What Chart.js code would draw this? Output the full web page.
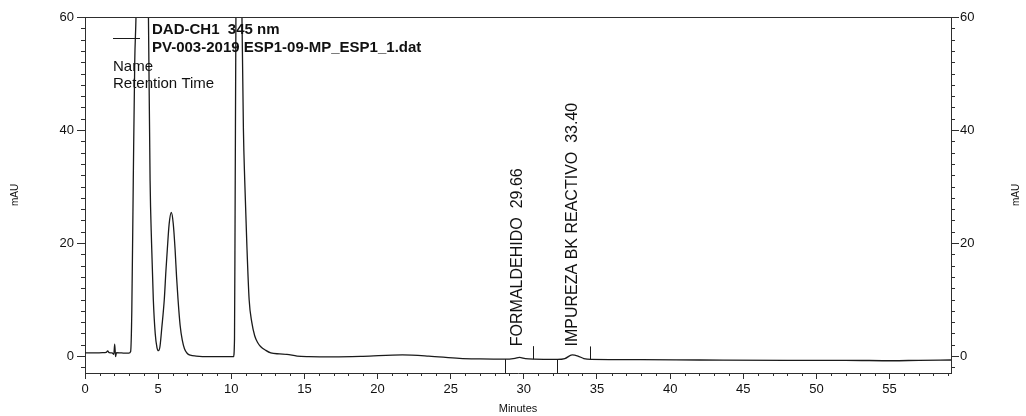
<!DOCTYPE html>
<html lang="es">
<head>
  <meta charset="UTF-8">
  <title>DAD-CH1 345 nm</title>
  <script src="https://cdn.jsdelivr.net/npm/chart.js"></script>
  <style>
    html, body { margin: 0; padding: 0; background: #fff; }
    canvas { display: block; }
  </style>
</head>
<body>
  <canvas id="chrom" width="1026" height="416"></canvas>

<script>
  const minutes = [
    0.0, 0.6, 1.2, 1.45, 1.55, 1.65, 1.85, 1.97, 2.03, 2.09, 2.15, 2.5, 3.0, 3.12,
    3.2, 3.3, 3.4, 3.5, 3.7, 3.9, 4.1, 4.33, 4.45, 4.55, 4.67, 4.8, 4.92, 5.02,
    5.12, 5.25, 5.42, 5.53, 5.63, 5.75, 5.9, 6.03, 6.16, 6.26, 6.36, 6.5, 6.65, 6.8,
    6.98, 7.2, 7.6, 8.5, 9.5, 10.15, 10.22, 10.26, 10.32, 10.5, 10.72, 10.83, 10.92,
    11.06, 11.22, 11.4, 11.6, 11.8, 12.0, 12.36, 12.7, 13.3, 13.8, 14.5, 15.3, 17,
    19, 21.7, 23.5, 25.6, 27, 28.7, 29.4, 29.7, 30.1, 30.7, 32.3, 32.8, 33.3, 33.7,
    34.1, 34.6, 38, 42, 48, 52, 55.2, 57, 59.2
  ];
  const mAU = [
    0.55, 0.55, 0.6, 0.65, 0.9, 0.6, 0.55, 0.3, 2.1, -0.1, 0.6, 0.55, 0.5, 0.8,
    8, 31, 52, 62, 110, 140, 110, 62, 31, 20, 10, 4, 1.5, 0.95,
    1.6, 5, 10, 15, 19, 23.3, 25.4, 23.5, 18.8, 14, 10, 5.5, 2.8, 1.3,
    0.5, 0.15, 0.0, -0.1, -0.1, -0.1, 3, 25, 62, 130, 62, 40, 31,
    20, 10, 6, 3.6, 2.4, 1.7, 1.0, 0.55, 0.38, 0.3, 0.0, -0.1, -0.15,
    -0.05, 0.2, 0.0, -0.4, -0.5, -0.55, -0.4, -0.25, -0.45, -0.55, -0.6, -0.45, 0.2, 0.0,
    -0.45, -0.6, -0.65, -0.7, -0.75, -0.75, -0.83, -0.75, -0.7
  ];

  const xTicks = [0, 5, 10, 15, 20, 25, 30, 35, 40, 45, 50, 55];
  const yTicks = [0, 20, 40, 60];

  // picos identificados
  const peakNames  = ['FORMALDEHIDO', 'IMPUREZA BK REACTIVO'];
  const peakTimes  = [29.66, 33.40];
  const peakStarts = [28.73, 32.27];
  const peakEnds   = [30.64, 34.52];
  const peakBase   = [-0.55, -0.6];

  const legendLines  = ['DAD-CH1  345 nm', 'PV-003-2019 ESP1-09-MP_ESP1_1.dat'];
  const legendFields = ['Name', 'Retention Time'];

  const INK = '#1a1a1a';
  const AXIS = '#2e2e2e';
  const FONT = "'Liberation Sans', Arial, sans-serif";

  // marcas menores, títulos, leyenda y etiquetas de picos
  const decorations = {
    id: 'decorations',
    afterDraw(chart) {
      const { ctx, chartArea: a, scales } = chart;
      const x = scales.x, y = scales.y;
      ctx.save();
      ctx.strokeStyle = AXIS;
      ctx.lineWidth = 1;

      // borde superior
      ctx.beginPath();
      ctx.moveTo(a.left, a.top + 0.5);
      ctx.lineTo(a.right, a.top + 0.5);
      ctx.stroke();

      // marcas menores
      ctx.beginPath();
      for (let v = Math.ceil(x.min); v <= x.max; v += 1) {
        if (v % 5 === 0) continue;
        const px = Math.round(x.getPixelForValue(v)) + 0.5;
        ctx.moveTo(px, a.bottom);
        ctx.lineTo(px, a.bottom + 3);
      }
      for (let v = -2; v <= y.max; v += 2) {
        if (v % 20 === 0) continue;
        const py = Math.round(y.getPixelForValue(v)) + 0.5;
        ctx.moveTo(a.left - 4, py);
        ctx.lineTo(a.left, py);
        ctx.moveTo(a.right, py);
        ctx.lineTo(a.right + 4, py);
      }
      ctx.stroke();

      ctx.fillStyle = '#111';

      // títulos de ejes
      ctx.font = '10px ' + FONT;
      ctx.textAlign = 'center';
      ctx.textBaseline = 'middle';
      const midY = (a.top + a.bottom) / 2;
      [15, 1016].forEach(tx => {
        ctx.save();
        ctx.translate(tx, midY);
        ctx.rotate(-Math.PI / 2);
        ctx.fillText('mAU', 0, 0);
        ctx.restore();
      });
      ctx.font = '11px ' + FONT;
      ctx.fillText('Minutes', (a.left + a.right) / 2, 409);

      // leyenda
      ctx.textAlign = 'left';
      ctx.font = 'bold 15px ' + FONT;
      ctx.fillText(legendLines[0], 152, 30);
      ctx.fillText(legendLines[1], 152, 48);
      ctx.font = '15px ' + FONT;
      ctx.fillText(legendFields[0], 113, 67);
      ctx.fillText(legendFields[1], 113, 84);
      ctx.strokeStyle = INK;
      ctx.beginPath();
      ctx.moveTo(113, 38.5);
      ctx.lineTo(140, 38.5);
      ctx.stroke();

      // picos: marcas de integración y nombre + tiempo
      ctx.font = '16px ' + FONT;
      peakNames.forEach((name, i) => {
        const base = y.getPixelForValue(peakBase[i]);
        const xs = Math.round(x.getPixelForValue(peakStarts[i])) + 0.5;
        const xe = Math.round(x.getPixelForValue(peakEnds[i])) + 0.5;
        ctx.beginPath();
        ctx.moveTo(xs, base);
        ctx.lineTo(xs, a.bottom);
        ctx.moveTo(xe, base);
        ctx.lineTo(xe, base - 13);
        ctx.stroke();

        ctx.save();
        ctx.translate(x.getPixelForValue(peakTimes[i]) - 1, base - 13);
        ctx.rotate(-Math.PI / 2);
        ctx.textAlign = 'left';
        ctx.textBaseline = 'middle';
        ctx.fillText(name + '  ' + peakTimes[i].toFixed(2), 0, 0);
        ctx.restore();
      });

      ctx.restore();
    }
  };

  const axisCommon = {
    grid: { drawOnChartArea: false, color: AXIS, tickLength: 8 },
    border: { display: true, color: AXIS, width: 1 },
    ticks: { color: '#111', font: { family: FONT, size: 13 }, autoSkip: false, maxRotation: 0 }
  };

  new Chart(document.getElementById('chrom'), {
    type: 'line',
    data: {
      datasets: [{
        data: minutes.map((t, i) => ({ x: t, y: mAU[i] })),
        borderColor: INK,
        borderWidth: 1.3,
        pointRadius: 0,
        cubicInterpolationMode: 'monotone'
      }]
    },
    options: {
      responsive: false,
      animation: false,
      events: [],
      layout: { padding: { top: 17, left: 0, right: 0, bottom: 0 } },
      plugins: { legend: { display: false }, tooltip: { enabled: false } },
      scales: {
        x: {
          type: 'linear', position: 'bottom', min: 0, max: 59.2,
          grid: { ...axisCommon.grid, tickLength: 6 },
          border: axisCommon.border,
          ticks: { ...axisCommon.ticks, padding: 3 },
          afterBuildTicks: s => { s.ticks = xTicks.map(v => ({ value: v })); },
          afterFit: s => { s.height = 43; }
        },
        y: {
          type: 'linear', position: 'left', min: -3, max: 60,
          ...axisCommon,
          ticks: { ...axisCommon.ticks, padding: 3 },
          afterBuildTicks: s => { s.ticks = yTicks.map(v => ({ value: v })); },
          afterFit: s => { s.width = 85; }
        },
        y2: {
          type: 'linear', position: 'right', min: -3, max: 60,
          ...axisCommon,
          ticks: { ...axisCommon.ticks, padding: 1 },
          afterBuildTicks: s => { s.ticks = yTicks.map(v => ({ value: v })); },
          afterFit: s => { s.width = 75; }
        }
      }
    },
    plugins: [decorations]
  });
</script>
</body>
</html>
